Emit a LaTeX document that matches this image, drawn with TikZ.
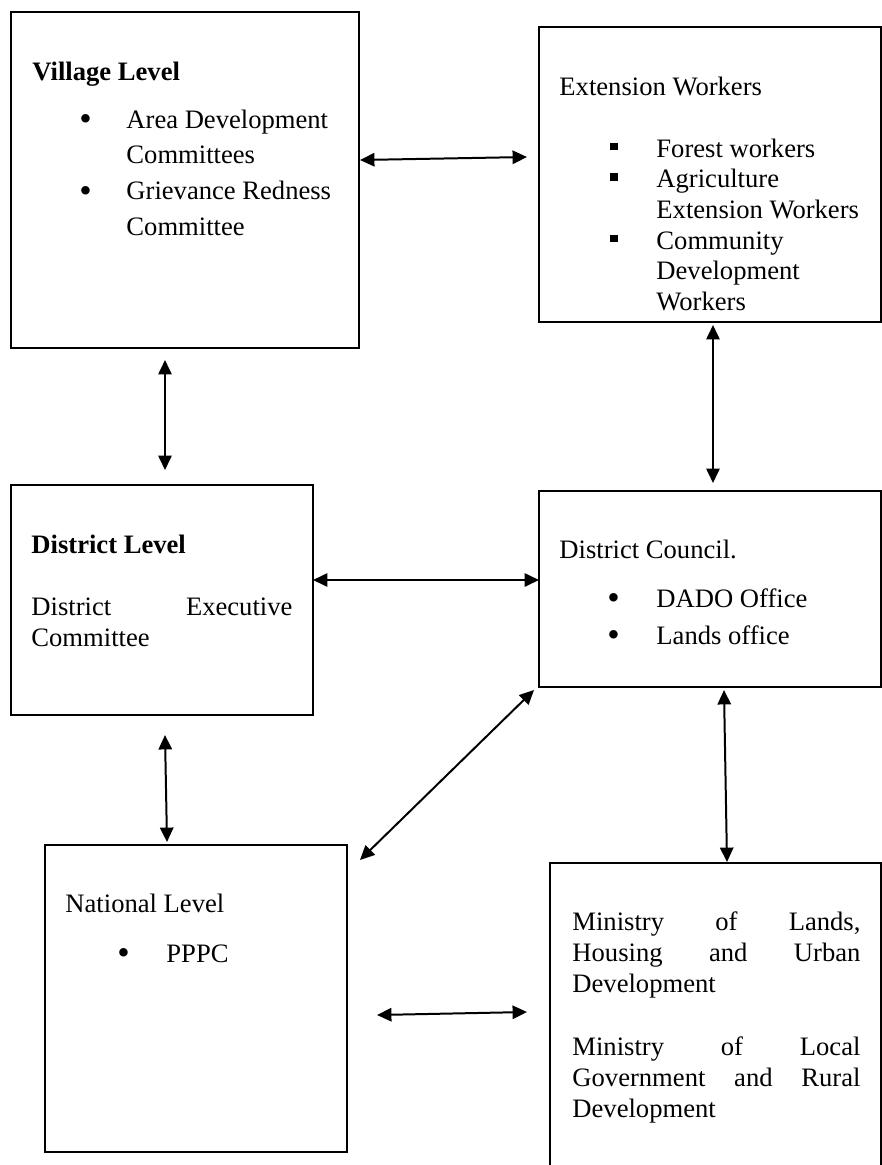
\documentclass[tikz,border=0pt]{standalone}
\usepackage{fontspec}
\setmainfont{Liberation Serif}
\usetikzlibrary{arrows.meta,calc}
\newlength{\pxl}\setlength{\pxl}{0.451pt}
\newcommand{\sqbullet}{\rule[3.2pt]{3.3pt}{3.3pt}}
\newcommand{\rndbullet}{\raisebox{-1pt}{\fontsize{16}{16}\selectfont\textbullet}}

\begin{document}
\begin{tikzpicture}[x=0.451pt, y=-0.451pt,
		box/.style 2 args={draw, line width=0.75pt, anchor=north west, inner sep=0pt, outer sep=0pt, minimum width=#1*\pxl, minimum height=#2*\pxl},
		txt/.style={anchor=base west, inner sep=0pt, font=\fontsize{12}{14}\selectfont},
		head/.style={txt, font=\fontsize{12}{14}\selectfont\bfseries},
		link/.style={{Triangle[length=6.5pt,width=6pt]}-{Triangle[length=6.5pt,width=6pt]}, line width=0.9pt}]
			\useasboundingbox (0,0) rectangle (882,1165);
			% boxes
			\node[box={348}{336}] (village) at (11,12) {};
			\node[box={342}{295}] (extension) at (539,27) {};
			\node[box={302}{230}] (district) at (11,485) {};
			\node[box={342}{196}] (council) at (539,491) {};
			\node[box={302}{307}] (national) at (45,845) {};
			\node[box={331}{317}] (ministry) at (550,863) {};
			% texts
			\node[head] (villagehead) at (32,80) {Village Level};
			\node[txt] (villagelist) at (79,128) {\fontsize{12}{16.2}\selectfont\begin{tabular}[t]{@{}p{21.2pt}@{}l@{}}
				\rndbullet & Area Development\\ & Committees\\ \rndbullet & Grievance Redness\\ & Committee\end{tabular}};
			\node[txt] (exthead) at (559,95) {Extension Workers};
			\node[txt] (extlist) at (610,157) {\fontsize{12}{13.85}\selectfont\begin{tabular}[t]{@{}p{20.75pt}@{}l@{}}
				\sqbullet & Forest workers\\ \sqbullet & Agriculture\\ & Extension Workers\\ \sqbullet & Community\\ & Development\\ & Workers\end{tabular}};
			\node[head] (districthead) at (31,553) {District Level};
			\node[txt, text width=117.7pt] (districttxt) at (31,615) {\fontsize{12}{14.4}\selectfont District\hfill Executive\\Committee};
			\node[txt] (councilhead) at (559,558) {District Council.};
			\node[txt] (councillist) at (607,607) {\fontsize{12}{16.7}\selectfont\begin{tabular}[t]{@{}p{22.1pt}@{}l@{}}
				\rndbullet & DADO Office\\ \rndbullet & Lands office\end{tabular}};
			\node[txt] (nationalhead) at (65,912) {National Level};
			\node[txt] (nationallist) at (117,962) {\begin{tabular}[t]{@{}p{22.1pt}@{}l@{}}\rndbullet & PPPC\end{tabular}};
			\node[txt, text width=129.9pt] (ministrytxt) at (572,930) {\fontsize{12}{14.15}\selectfont
				Ministry\hfill of\hfill Lands,\\Housing\hfill and\hfill Urban\\Development\\[\baselineskip]
				Ministry\hfill of\hfill Local\\Government\hfill and\hfill Rural\\Development};
			% links
			\foreach \from/\fromoff/\to/\tooff in {
					village.east/{1,-20}/extension.west/{-12,-17.5},
					village.south/{-20,12}/district.north/{3,-15},
					extension.south/{3,3}/council.north/{3,-8},
					district.east/{0,-20}/council.west/{0,-9},
					council.south west/{-5,3}/national.north east/{13,15},
					council.south/{14,3}/ministry.north/{11.5,-1},
					district.south/{3,20}/national.north/{-29,-3},
					national.east/{30,16.5}/ministry.west/{-23,-9.5}}
				\draw[link] ($(\from)+(\fromoff)$) -- ($(\to)+(\tooff)$);
		\end{tikzpicture}
\end{document}
